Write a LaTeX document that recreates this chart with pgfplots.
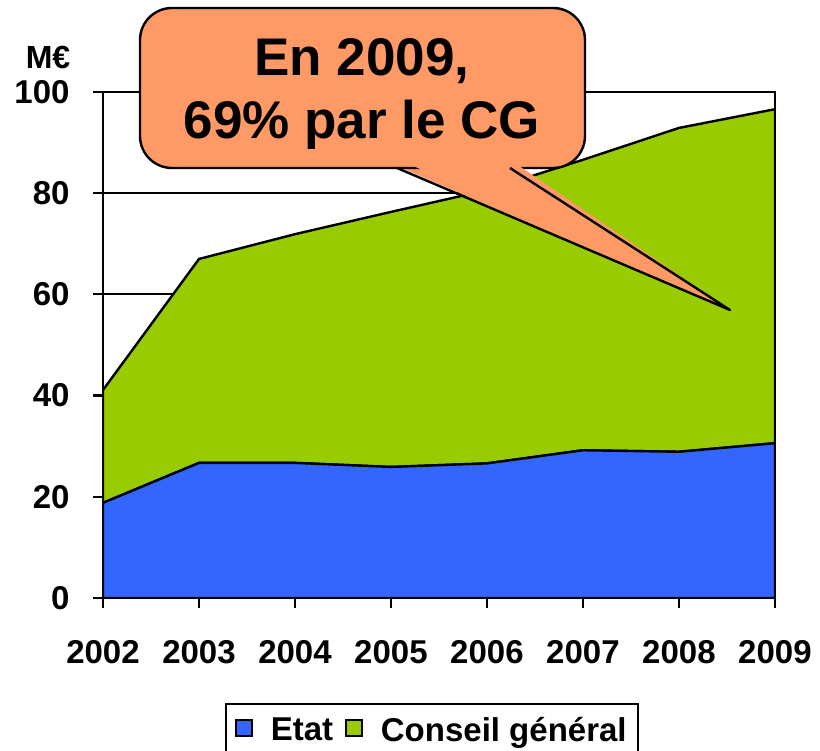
\documentclass[border=0pt]{standalone}
\usepackage{pgfplots}
\pgfplotsset{compat=1.18}
\usepackage{fontspec}
\setmainfont{Liberation Sans}
\definecolor{etat}{HTML}{3366FF}
\definecolor{cg}{HTML}{99CC00}
\definecolor{callout}{HTML}{FF9966}
\begin{document}
\begin{tikzpicture}[x=1pt,y=1pt]
\path[use as bounding box] (0,0) rectangle (820,751);
\begin{axis}[
  at={(103pt,153pt)}, anchor=south west,
  scale only axis, width=672pt, height=506pt,
  xmin=2002, xmax=2009, ymin=0, ymax=100,
  xtick={2002,...,2009}, ytick={0,20,...,100},
  xticklabels={2002,2003,2004,2005,2006,2007,2008,2009},
  stack plots=y,
  axis line style={black, line width=2.4pt},
  tick style={black, line width=2.2pt},
  major tick length=10pt, tick align=outside,
  xtick pos=bottom, ytick pos=left,
  ymajorgrids, grid style={black, line width=1.8pt},
  /pgf/number format/assume math mode=true,
  ticklabel style={font=\fontsize{33}{38}\selectfont\bfseries},
  yticklabel style={xshift=-20pt},
  xticklabel style={yshift=-29pt},
  legend columns=2,
  legend style={at={(0.1815,-0.2075)}, anchor=north west, draw=black, line width=2pt,
    font=\fontsize{33}{38}\selectfont\bfseries, inner xsep=9pt, inner ysep=11pt,
    /tikz/every even column/.style={column sep=10pt},
    /tikz/every odd column/.style={column sep=16pt}},
  legend image code/.code={\draw[#1,draw=black,line width=1.8pt] (0pt,-6pt) rectangle (16pt,10pt);},
]
\addplot[fill=etat, draw=black, line width=2.4pt] coordinates {
 (2002,18.8) (2003,26.7) (2004,26.7) (2005,25.9) (2006,26.6) (2007,29.2) (2008,28.9) (2009,30.6)} \closedcycle;
\addplot[fill=cg, draw=black, line width=2.4pt] coordinates {
 (2002,22.3) (2003,40.3) (2004,45.2) (2005,50.4) (2006,54.0) (2007,57.4) (2008,64.0) (2009,66.0)} \closedcycle;
\legend{Etat, Conseil général}
\end{axis}
% M€ label
\node[font=\fontsize{32}{36}\selectfont\bfseries] at (48,694) {M€};
% callout
\fill[callout] (397,585) -- (730,441) -- (510,585) -- cycle;
\filldraw[fill=callout, draw=black, line width=2.4pt, rounded corners=32pt] (140,583) rectangle (585,743);
\fill[callout] (398,592) -- (730,441) -- (509,592) -- cycle;
\draw[black, line width=2.4pt, line join=round] (397,583) -- (730,441) -- (510,583);
\node[font=\fontsize{53}{63}\selectfont\bfseries, align=center] at (362,657) {En 2009,\\69\% par le CG};
\end{tikzpicture}
\end{document}
